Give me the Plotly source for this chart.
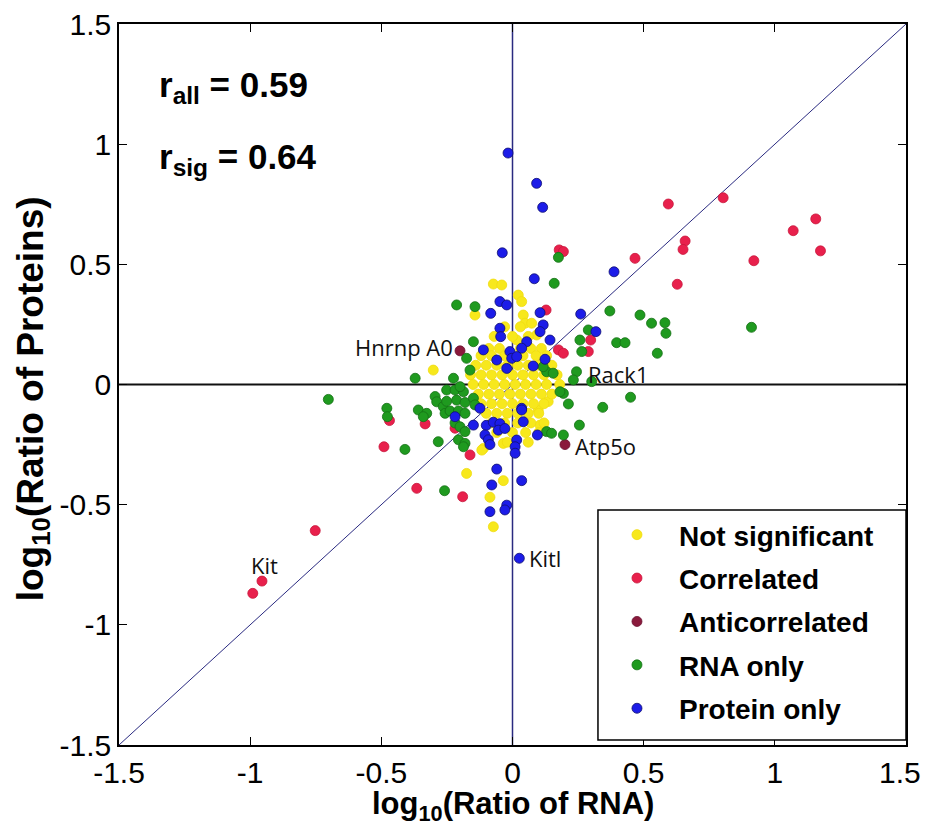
import plotly.graph_objects as go

# ---------------- data ----------------
ns_x = [-0.073,-0.041,0.022,0.035,-0.143,0.041,0.048,0.073,0.016,0.092,-0.302,0.136,0.098,0.105,-0.035,-0.111,-0.175,-0.035,-0.086,-0.073,-0.117,
        -0.09,-0.05,0.03,0.07,0.11,
        -0.12,-0.08,-0.03,0.04,0.09,0.13,
        -0.14,-0.10,-0.06,-0.02,0.02,0.06,0.10,0.15,
        -0.16,-0.12,-0.08,-0.04,0.00,0.04,0.08,0.12,0.17,
        -0.15,-0.11,-0.07,-0.03,0.01,0.05,0.09,0.13,0.18,
        -0.13,-0.09,-0.05,-0.01,0.03,0.07,0.11,0.15,
        -0.12,-0.08,-0.04,0.00,0.04,0.08,0.12,
        -0.10,-0.06,-0.02,0.02,0.06,0.10,
        -0.08,-0.03,0.02,0.07,0.12,
        -0.06,0.00,0.05,0.10,
        -0.02,0.06,
        -0.07,0.00,0.06,
        -0.03,0.03]
ns_y = [0.418,0.414,0.372,0.345,0.289,0.289,0.255,0.255,0.185,0.206,0.060,-0.071,-0.106,-0.169,-0.245,-0.266,-0.370,-0.400,-0.469,-0.592,-0.273,
        0.15,0.15,0.15,0.15,0.15,
        0.12,0.12,0.12,0.12,0.12,0.12,
        0.08,0.08,0.08,0.08,0.08,0.08,0.08,0.08,
        0.04,0.04,0.04,0.04,0.04,0.04,0.04,0.04,0.04,
        0.00,0.00,0.00,0.00,0.00,0.00,0.00,0.00,0.00,
        -0.04,-0.04,-0.04,-0.04,-0.04,-0.04,-0.04,-0.04,
        -0.08,-0.08,-0.08,-0.08,-0.08,-0.08,-0.08,
        -0.12,-0.12,-0.12,-0.12,-0.12,-0.12,
        -0.16,-0.16,-0.16,-0.16,-0.16,
        -0.20,-0.20,-0.20,-0.20,
        -0.24,-0.24,
        0.20,0.20,0.20,
        0.24,0.24]

cor_x = [0.594,0.803,1.156,1.070,1.174,0.920,0.658,0.650,0.467,0.628,0.178,0.194,0.128,0.298,0.289,0.175,0.194,
         -0.469,-0.333,-0.490,-0.219,-0.162,-0.365,-0.190,-0.752,-0.955,-0.990]
cor_y = [0.751,0.777,0.689,0.640,0.556,0.515,0.597,0.562,0.525,0.417,0.560,0.553,0.310,0.185,0.137,0.144,0.130,
         -0.150,-0.164,-0.259,-0.182,-0.293,-0.432,-0.467,-0.608,-0.818,-0.869]

anti_x = [-0.200, 0.200]
anti_y = [0.140, -0.250]

rna_x = [0.175,0.159,0.371,0.486,0.530,0.581,0.585,0.911,0.289,0.257,0.264,0.397,0.429,0.552,0.244,0.232,0.302,0.194,0.450,0.213,0.344,0.255,0.194,0.130,0.155,0.117,0.181,0.130,0.149,
         -0.213,-0.143,-0.149,-0.371,-0.702,-0.225,-0.162,-0.175,-0.251,-0.219,-0.187,-0.200,-0.295,-0.289,-0.264,-0.257,-0.251,-0.213,-0.181,-0.149,-0.143,-0.238,-0.206,-0.181,-0.219,-0.200,-0.181,-0.206,-0.181,-0.187,
         -0.479,-0.477,-0.359,-0.327,-0.340,-0.410,-0.283,-0.259]
rna_y = [0.529,0.421,0.306,0.289,0.255,0.257,0.213,0.238,0.227,0.185,0.137,0.174,0.174,0.130,0.053,0.019,0.012,-0.037,-0.053,-0.081,-0.095,-0.169,-0.210,0.053,0.047,0.074,-0.030,-0.196,-0.203,
         0.331,0.324,0.178,0.026,-0.062,0.026,0.060,0.109,-0.023,-0.023,-0.030,-0.009,-0.050,-0.072,-0.092,-0.120,-0.070,-0.065,-0.075,-0.057,-0.085,-0.110,-0.110,-0.120,-0.160,-0.176,-0.196,-0.230,-0.245,-0.259,
         -0.099,-0.134,-0.106,-0.120,-0.134,-0.270,-0.238,-0.442]

prot_x = [-0.017,0.092,0.115,-0.039,0.083,0.387,0.260,0.318,-0.048,-0.022,-0.083,0.105,-0.048,-0.045,0.117,0.105,0.143,0.054,0.035,-0.111,-0.010,-0.003,0.016,-0.060,0.124,0.079,-0.022,
          -0.124,-0.219,-0.149,-0.100,-0.073,-0.048,-0.054,-0.029,-0.105,-0.092,-0.086,0.035,0.041,0.016,0.010,0.010,0.095,-0.060,-0.079,0.035,-0.022,-0.029,-0.086,0.035,0.026]
prot_y = [0.963,0.837,0.737,0.548,0.440,0.469,0.293,0.220,0.345,0.331,0.296,0.299,0.234,0.199,0.248,0.220,0.185,0.178,0.151,0.144,0.137,0.109,0.116,0.102,0.105,0.077,0.067,
          -0.099,-0.134,-0.169,-0.170,-0.157,-0.163,-0.190,-0.183,-0.210,-0.230,-0.250,-0.099,-0.155,-0.231,-0.259,-0.286,-0.210,-0.352,-0.418,-0.400,-0.502,-0.522,-0.529,-0.106,-0.723]

axis_range = [-1.5, 1.5]
tick_vals = [-1.5, -1, -0.5, 0, 0.5, 1, 1.5]
tick_text = ["-1.5", "-1", "-0.5", "0", "0.5", "1", "1.5"]

gene_labels = ["Hnrnp A0", "Rack1", "Atp5o", "Kit", "Kitl"]
gene_x = [-0.22, 0.28, 0.23, -0.947, 0.055]
gene_y = [0.155, 0.044, -0.255, -0.752, -0.72]
gene_anchor = ["right", "left", "left", "center", "left"]

FONT = "Liberation Sans, Arial, sans-serif"

fig = go.Figure()

# reference lines
fig.add_trace(go.Scatter(x=axis_range, y=axis_range, mode="lines",
                         line=dict(color="#2a2a80", width=1), showlegend=False, hoverinfo="skip"))
fig.add_trace(go.Scatter(x=[0, 0], y=axis_range, mode="lines",
                         line=dict(color="#2a2a80", width=1.5), showlegend=False, hoverinfo="skip"))
fig.add_trace(go.Scatter(x=axis_range, y=[0, 0], mode="lines",
                         line=dict(color="#101010", width=2), showlegend=False, hoverinfo="skip"))

def pts(x, y, name, color, edge):
    return go.Scatter(x=x, y=y, mode="markers", name=name, legendgroup=name,
                      marker=dict(size=10, color=color, line=dict(color=edge, width=0.8)))

fig.add_trace(pts(ns_x, ns_y, "Not significant", "#f7e81c", "#f0dc10"))
fig.add_trace(pts(cor_x, cor_y, "Correlated", "#e8204c", "#c8183c"))
fig.add_trace(pts(anti_x, anti_y, "Anticorrelated", "#8a1a3c", "#6a1030"))
fig.add_trace(pts(rna_x, rna_y, "RNA only", "#1f9a1f", "#157015"))
fig.add_trace(pts(prot_x, prot_y, "Protein only", "#1c1ce8", "#101070"))

for t, gx, gy, ga in zip(gene_labels, gene_x, gene_y, gene_anchor):
    fig.add_annotation(x=gx, y=gy, text=t, showarrow=False, xanchor=ga, yanchor="middle",
                       font=dict(family="Open Sans, Noto Sans, sans-serif", size=22, color="#111"))

fig.add_annotation(xref="paper", yref="paper", x=0.048, y=0.9125, xanchor="left", yanchor="middle",
                   text="<b>r<sub>all</sub> = 0.59</b>", showarrow=False,
                   font=dict(family=FONT, size=35, color="#000"))
fig.add_annotation(xref="paper", yref="paper", x=0.048, y=0.8125, xanchor="left", yanchor="middle",
                   text="<b>r<sub>sig</sub> = 0.64</b>", showarrow=False,
                   font=dict(family=FONT, size=35, color="#000"))

fig.add_annotation(xref="paper", yref="paper", x=0.5, y=-0.085, xanchor="center", yanchor="middle",
                   text="<b>log<sub>10</sub>(Ratio of RNA)</b>", showarrow=False,
                   font=dict(family=FONT, size=31, color="#000"))
fig.add_annotation(xref="paper", yref="paper", x=-0.11, y=0.48, xanchor="center", yanchor="middle",
                   text="<b>log<sub>10</sub>(Ratio of Proteins)</b>", showarrow=False, textangle=-90,
                   font=dict(family=FONT, size=37, color="#000"))

# last x tick label drawn as an annotation, nudged so it stays inside the page
fig.add_annotation(x=tick_vals[-1], xref="x", yref="paper", y=0, yanchor="top", xanchor="center",
                   xshift=-6, yshift=-9, text=tick_text[-1], showarrow=False,
                   font=dict(family=FONT, size=30, color="#000"))
x_ticktext = tick_text[:-1] + [""]

# legend frame
fig.add_shape(type="rect", xref="paper", yref="paper", x0=0.6086, x1=1.0, y0=0.0069, y1=0.326,
              line=dict(color="#000", width=1.5), fillcolor="white", layer="above")

axis_common = dict(range=axis_range, tickvals=tick_vals, ticks="inside",
                   ticklen=8, tickwidth=1.2, tickcolor="#000", showline=True, linecolor="#000",
                   linewidth=1.5, mirror="allticks", showgrid=False, zeroline=False,
                   automargin=False, ticklabeloverflow="allow",
                   tickfont=dict(family=FONT, size=30, color="#000"), fixedrange=True)

# page body has an 8px margin: figure is shrunk and margins shifted so the plot
# area lands at the same pixel position as the reference
fig.update_layout(
    width=921, height=823,
    margin=dict(l=111, r=23, t=16, b=86),
    paper_bgcolor="white", plot_bgcolor="white",
    xaxis=dict(axis_common, ticktext=x_ticktext),
    yaxis=dict(axis_common, ticktext=tick_text),
    legend=dict(x=0.6048, y=0.326, xanchor="left", yanchor="top",
                borderwidth=0, bgcolor="rgba(0,0,0,0)",
                font=dict(family=FONT, size=28, color="#000", weight="bold"),
                itemsizing="trace", tracegroupgap=4, itemwidth=74),
    showlegend=True,
)

fig.write_html("out.html")
